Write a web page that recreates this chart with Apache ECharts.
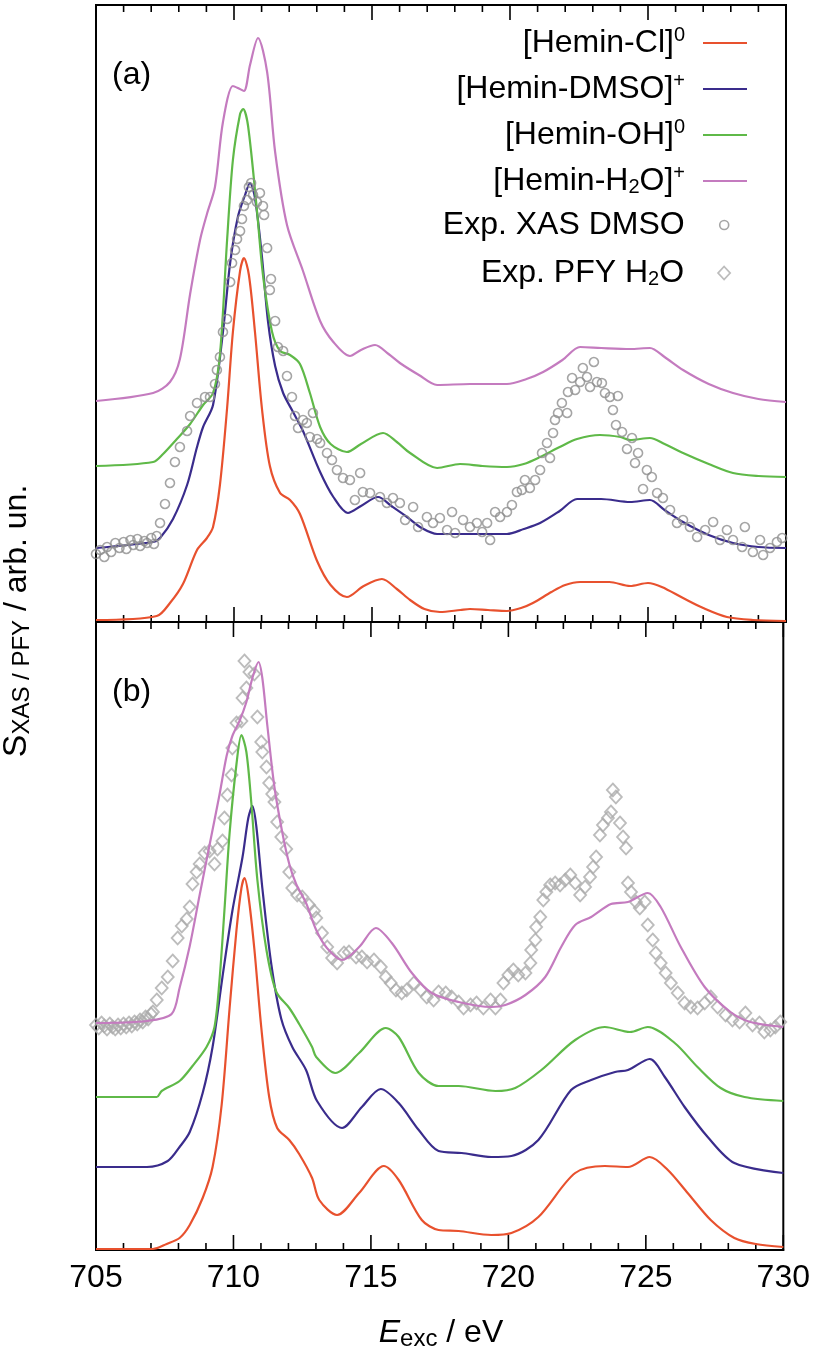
<!DOCTYPE html>
<html>
<head>
<meta charset="utf-8">
<script src="https://cdn.jsdelivr.net/npm/echarts@6/dist/echarts.min.js"></script>
<style>
html,body{margin:0;padding:0;background:#fff;}
#chart{width:813px;height:1353px;}
</style>
</head>
<body>
<div id="chart"></div>
<script>
// ---------- data (x = excitation energy / eV, y = arb. units, offset traces) ----------
const xTicks = [705, 710, 715, 720, 725, 730];
const xMinorTicks = [705, 706, 707, 708, 709, 710, 711, 712, 713, 714, 715, 716, 717, 718, 719, 720, 721, 722, 723, 724, 725, 726, 727, 728, 729, 730];
const seriesNames = ['Hemin-Cl', 'Hemin-DMSO', 'Hemin-OH', 'Hemin-H2O', 'Exp. XAS DMSO', 'Exp. PFY H2O'];

// panel (a)
const a_cl = [[705,2],[707.2,6],[707.68,19],[708.15,38],[708.66,72],[709.02,84],[709.24,95],[709.49,137],[709.75,214],[709.96,290],[710.22,351],[710.36,364],[710.54,347],[710.76,290],[711.01,214],[711.3,156],[711.67,129],[712.03,122],[712.39,108],[713.01,61],[713.5,37],[714.09,25],[714.7,36],[715.36,43],[715.9,33],[716.38,22],[716.9,13],[717.46,10],[718.2,12],[718.55,13],[719.2,12],[719.89,11],[720.4,14],[720.83,19],[721.5,30],[722.0,37],[722.54,40],[723.6,40],[724.35,36],[725.0,39],[725.5,35],[726.27,24],[727.0,14],[727.86,5],[728.8,2],[730,1]];
const a_dmso = [[705,74],[707.07,80],[707.32,84],[707.79,103],[708.3,137],[708.66,175],[708.88,195],[709.24,217],[709.6,290],[709.86,359],[710.14,405],[710.4,427],[710.58,439],[710.76,424],[711.01,366],[711.23,301],[711.49,256],[711.78,229],[712.14,210],[712.5,191],[713.12,150],[713.6,125],[714.13,109],[714.6,116],[715.22,125],[715.7,116],[716.27,105],[716.8,94],[717.36,88],[718.5,88],[719.89,88],[720.5,93],[721.09,99],[721.8,111],[722.43,123],[723.3,123],[724.35,120],[725.07,122],[725.6,112],[726.27,100],[727.2,87],[728.08,79],[729.0,75],[730,74]];
const a_oh = [[705,156],[707.07,160],[707.43,168],[707.93,183],[708.41,198],[708.88,217],[709.24,229],[709.49,267],[709.75,382],[709.96,462],[710.22,508],[710.33,513],[710.51,496],[710.83,412],[711.05,347],[711.38,290],[711.67,271],[712.03,267],[712.39,258],[712.75,229],[713.12,195],[713.5,178],[714.09,170],[714.6,178],[715.4,189],[715.9,180],[716.38,169],[717.36,154],[718.19,158],[719.0,156],[719.89,155],[720.5,158],[721.09,165],[721.8,175],[722.43,183],[723.26,187],[724.0,185],[724.35,182],[725.07,184],[725.6,178],[726.27,169],[727.2,158],[728.08,149],[729.0,146],[730,145]];
const a_h2o = [[705,221],[707.07,229],[707.68,240],[708.04,263],[708.41,328],[708.77,382],[709.02,408],[709.31,435],[709.6,500],[709.96,536],[710.14,534],[710.36,531],[710.58,557],[710.87,584],[711.2,550],[711.49,470],[711.92,397],[712.5,351],[713.12,301],[713.6,280],[714.2,266],[714.6,272],[715.11,277],[715.6,268],[716.01,259],[716.7,247],[717.36,237],[718.55,238],[719.89,238],[720.6,243],[721.2,250],[721.9,262],[722.54,275],[723.3,274],[724.35,273],[725.07,274],[725.6,265],[726.27,252],[727.2,238],[728.08,229],[729.0,223],[730,220]];
const a_xas = [[705.0,68],[705.15,72],[705.3,65],[705.4,75],[705.55,70],[705.7,79],[705.85,74],[706.0,80],[706.1,73],[706.25,82],[706.35,77],[706.5,83],[706.6,76],[706.75,81],[706.85,79],[707.0,84],[707.1,78],[707.2,86],[707.32,99],[707.5,118],[707.68,139],[707.86,160],[708.04,175],[708.3,191],[708.41,206],[708.66,219],[708.95,225],[709.13,225],[709.31,238],[709.38,252],[709.49,265],[709.6,290],[709.75,303],[709.86,340],[709.93,359],[710.04,372],[710.11,383],[710.22,391],[710.29,403],[710.36,416],[710.47,422],[710.54,435],[710.62,439],[710.69,427],[710.83,420],[710.94,429],[711.05,416],[711.09,407],[711.2,374],[711.3,332],[711.34,343],[711.49,301],[711.59,275],[711.78,271],[711.92,246],[712.1,225],[712.21,206],[712.32,194],[712.5,202],[712.64,199],[712.75,185],[712.86,209],[713.01,183],[713.12,179],[713.37,169],[713.55,162],[713.73,152],[713.95,144],[714.2,142],[714.38,122],[714.57,149],[714.67,130],[714.93,129],[715.29,125],[715.54,119],[715.76,124],[716.01,119],[716.2,102],[716.49,115],[716.67,95],[716.99,105],[717.21,99],[717.46,104],[717.72,92],[717.9,110],[718.01,89],[718.3,102],[718.55,95],[718.8,99],[718.99,90],[719.17,99],[719.28,82],[719.46,110],[719.64,105],[719.89,110],[720.07,117],[720.25,130],[720.43,132],[720.54,142],[720.72,134],[720.91,142],[721.09,152],[721.16,169],[721.34,179],[721.45,164],[721.56,189],[721.63,202],[721.74,209],[721.88,219],[722.07,209],[722.1,230],[722.25,244],[722.36,232],[722.54,240],[722.64,254],[722.79,245],[722.9,235],[723.04,260],[723.15,240],[723.33,239],[723.44,229],[723.62,225],[723.73,212],[723.84,197],[723.91,226],[724.06,190],[724.24,173],[724.42,184],[724.53,159],[724.64,169],[724.82,133],[724.96,152],[725.14,145],[725.33,129],[725.54,124],[725.8,112],[726.05,99],[726.27,102],[726.52,95],[726.78,85],[727.07,92],[727.36,100],[727.61,82],[727.86,92],[728.08,82],[728.41,75],[728.51,95],[728.8,70],[729.06,82],[729.17,67],[729.42,74],[729.67,80],[729.86,84]];

// panel (b)
const b_cl = [[705,1],[707.07,1],[707.57,6],[708.04,12],[708.41,25],[708.88,52],[709.24,83],[709.57,145],[709.86,242],[710.11,320],[710.29,362],[710.4,372],[710.54,355],[710.76,301],[711.01,223],[711.3,153],[711.59,122],[712.03,110],[712.39,96],[712.86,72],[713.12,50],[713.77,35],[714.57,57],[715.47,84],[716.01,70],[716.85,30],[717.46,20],[718.19,19],[719.38,15],[720.11,17],[721.09,33],[722.43,77],[723.51,84],[724.35,83],[725.14,93],[725.8,80],[726.52,57],[727.36,30],[728.22,12],[729.0,6],[730,3]];
const b_dmso = [[705,83],[706.85,83],[707.61,89],[708.04,103],[708.41,118],[708.88,157],[709.24,203],[709.6,273],[709.96,339],[710.33,393],[710.54,432],[710.69,444],[710.83,424],[711.05,362],[711.38,285],[711.74,231],[712.14,203],[712.64,180],[713.04,149],[713.95,122],[714.67,143],[715.36,161],[716.01,147],[716.74,120],[717.46,99],[718.3,97],[719.38,93],[720.11,94],[721.09,110],[722.28,160],[723.01,170],[723.88,178],[724.35,180],[725.14,191],[725.69,173],[726.41,143],[727.25,113],[728.22,87],[730,77]];
const b_oh = [[705,153],[707.21,153],[707.39,159],[708.04,169],[708.51,184],[709.02,203],[709.31,223],[709.49,269],[709.67,339],[709.86,417],[710.11,486],[710.29,515],[710.47,498],[710.65,447],[710.87,370],[711.2,300],[711.56,258],[712.03,242],[712.39,226],[712.86,203],[713.01,193],[713.7,177],[714.57,197],[715.54,222],[716.01,213],[716.74,177],[717.46,164],[718.19,164],[719.53,159],[720.25,162],[721.2,180],[722.43,210],[723.51,223],[724.42,218],[725.07,223],[726.05,207],[726.88,183],[727.72,162],[728.59,153],[730,149]];
const b_h2o = [[705,227],[706.85,229],[707.75,236],[708.04,262],[708.41,304],[708.77,355],[709.13,405],[709.49,455],[709.75,494],[709.96,514],[710.22,529],[710.47,548],[710.69,572],[710.91,588],[711.05,572],[711.23,525],[711.49,463],[711.78,417],[712.03,386],[712.28,366],[712.64,347],[713.01,320],[713.4,302],[713.95,290],[714.57,303],[715.18,322],[715.76,307],[716.49,277],[717.21,257],[718.19,248],[719.38,243],[719.89,245],[720.62,255],[721.34,273],[721.92,303],[722.43,325],[723.01,333],[723.73,346],[724.35,348],[725.07,357],[725.54,343],[726.27,303],[727.14,263],[728.08,238],[728.8,228],[730,223]];
const b_pfy = [[705.0,225],[705.1,222],[705.2,227],[705.3,224],[705.4,221],[705.5,226],[705.6,223],[705.7,221],[705.8,225],[705.9,222],[706.0,226],[706.1,223],[706.2,227],[706.3,224],[706.4,228],[706.5,226],[706.6,230],[706.7,228],[706.8,233],[706.9,231],[707.0,236],[707.07,238],[707.21,250],[707.39,262],[707.61,273],[707.79,289],[707.97,312],[708.12,324],[708.3,331],[708.41,343],[708.51,366],[708.66,378],[708.77,386],[708.95,397],[709.13,399],[709.31,386],[709.42,401],[709.6,409],[709.67,432],[709.78,455],[709.93,475],[709.96,502],[710.11,527],[710.29,529],[710.33,552],[710.4,589],[710.47,562],[710.58,578],[710.76,576],[710.87,533],[711.01,508],[711.05,498],[711.2,483],[711.3,467],[711.41,456],[711.49,448],[711.59,428],[711.74,413],[711.92,401],[712.03,378],[712.14,362],[712.32,355],[712.5,353],[712.75,345],[712.93,339],[713.01,332],[713.22,317],[713.41,303],[713.59,292],[713.77,287],[714.02,297],[714.2,298],[714.46,293],[714.67,293],[714.86,288],[715.11,290],[715.36,283],[715.54,273],[715.72,267],[715.91,260],[716.12,257],[716.3,260],[716.56,267],[716.81,260],[717.03,253],[717.28,250],[717.46,258],[717.72,257],[717.93,253],[718.19,248],[718.37,242],[718.62,245],[718.84,247],[719.09,242],[719.35,250],[719.53,242],[719.71,250],[719.82,267],[720.0,275],[720.18,280],[720.36,275],[720.62,277],[720.8,287],[720.83,300],[720.98,310],[721.01,323],[721.16,333],[721.27,350],[721.38,358],[721.52,365],[721.7,367],[721.88,365],[722.07,370],[722.25,375],[722.43,367],[722.61,355],[722.79,363],[722.97,373],[723.08,383],[723.19,393],[723.33,415],[723.44,425],[723.62,432],[723.73,438],[723.8,460],[723.91,453],[724.06,427],[724.17,413],[724.28,402],[724.35,367],[724.46,358],[724.64,348],[724.78,342],[724.96,348],[725.07,325],[725.25,310],[725.36,297],[725.54,287],[725.72,277],[725.91,267],[726.16,257],[726.41,247],[726.63,243],[726.88,242],[727.14,247],[727.36,253],[727.61,243],[727.9,235],[728.15,230],[728.41,228],[728.62,237],[728.88,225],[729.13,227],[729.31,218],[729.53,220],[729.71,223],[729.89,228]];

// ---------- styling ----------
const FONT = '"Liberation Sans", Arial, Helvetica, sans-serif';
const COLORS = {'Hemin-Cl': '#e8512e', 'Hemin-DMSO': '#3a2c8c', 'Hemin-OH': '#5fb948', 'Hemin-H2O': '#c47bbf'};
const Y_MAX_A = 617, Y_MAX_B = 628;
const MAJOR_LEN = 15, MINOR_LEN = 7;
const legendText = {
  'Hemin-Cl': '{n|[Hemin-Cl]}{sup|0}',
  'Hemin-DMSO': '{n|[Hemin-DMSO]}{sup|+}',
  'Hemin-OH': '{n|[Hemin-OH]}{sup|0}',
  'Hemin-H2O': '{n|[Hemin-H}{sub|2}{n|O]}{sup|+}',
  'Exp. XAS DMSO': '{n|Exp. XAS DMSO}',
  'Exp. PFY H2O': '{n|Exp. PFY H}{sub|2}{n|O}'
};
const richLegend = {
  n: {fontSize: 32, fontFamily: FONT, color: '#000', lineHeight: 36},
  sup: {fontSize: 20, fontFamily: FONT, color: '#000', lineHeight: 20, padding: [0, 0, 16, 0]},
  sub: {fontSize: 20, fontFamily: FONT, color: '#000', lineHeight: 20, padding: [14, 0, 2, 0]}
};

function xAxisFor(gridIndex, position, showLabels) {
  return {
    type: 'value', gridIndex: gridIndex, position: position,
    min: xTicks[0], max: xTicks[xTicks.length - 1], interval: 5,
    axisLine: {show: true, onZero: false, lineStyle: {color: '#000', width: 2}},
    axisTick: {show: false}, minorTick: {show: false},
    splitLine: {show: false},
    axisLabel: {show: showLabels, fontSize: 32, fontFamily: FONT, color: '#000', margin: 12}
  };
}
function yAxisFor(gridIndex, max) {
  return {
    type: 'value', gridIndex: gridIndex, min: 0, max: max,
    axisLine: {show: true, lineStyle: {color: '#000', width: 2}},
    axisTick: {show: false}, axisLabel: {show: false}, splitLine: {show: false}
  };
}
function lineSeries(name, data, xi, yi) {
  return {
    name: name, type: 'line', data: data, xAxisIndex: xi, yAxisIndex: yi,
    symbol: 'none', smooth: 0.3, color: COLORS[name],
    lineStyle: {color: COLORS[name], width: 2.2}, z: 3
  };
}

const chart = echarts.init(document.getElementById('chart'), null, {renderer: 'canvas'});

// stage 1: panels, axes and data
chart.setOption({
  animation: false,
  backgroundColor: '#fff',
  grid: [
    {left: 96, right: 27, top: 5, height: 617, show: true, borderColor: '#000', borderWidth: 2, backgroundColor: 'transparent'},
    {left: 96, right: 27, top: 622, height: 628, show: true, borderColor: '#000', borderWidth: 2, backgroundColor: 'transparent'}
  ],
  xAxis: [xAxisFor(0, 'bottom', false), xAxisFor(0, 'top', false), xAxisFor(1, 'top', false), xAxisFor(1, 'bottom', true)],
  yAxis: [yAxisFor(0, Y_MAX_A), yAxisFor(1, Y_MAX_B)],
  series: [
    lineSeries('Hemin-Cl', a_cl, 0, 0),
    lineSeries('Hemin-DMSO', a_dmso, 0, 0),
    lineSeries('Hemin-OH', a_oh, 0, 0),
    lineSeries('Hemin-H2O', a_h2o, 0, 0),
    {name: 'Exp. XAS DMSO', type: 'scatter', data: a_xas, xAxisIndex: 0, yAxisIndex: 0,
      symbol: 'circle', symbolSize: 9, z: 4,
      itemStyle: {color: 'rgba(255,255,255,0)', borderColor: '#8e8e8e', borderWidth: 1.6}},
    lineSeries('Hemin-Cl', b_cl, 3, 1),
    lineSeries('Hemin-DMSO', b_dmso, 3, 1),
    lineSeries('Hemin-OH', b_oh, 3, 1),
    lineSeries('Hemin-H2O', b_h2o, 3, 1),
    {name: 'Exp. PFY H2O', type: 'scatter', data: b_pfy, xAxisIndex: 3, yAxisIndex: 1,
      symbol: 'diamond', symbolSize: [12, 13], z: 2,
      itemStyle: {color: 'rgba(255,255,255,0)', borderColor: '#ababab', borderWidth: 1.8}}
  ]
});

// stage 2: inward tick marks on every panel edge, placed through the x-axis scale
const tickMarks = [];
[[0, 0, Y_MAX_A], [3, 1, Y_MAX_B]].forEach(function (p) {
  xMinorTicks.forEach(function (v) {
    const len = xTicks.indexOf(v) >= 0 ? MAJOR_LEN : MINOR_LEN;
    const pb = chart.convertToPixel({xAxisIndex: p[0], yAxisIndex: p[1]}, [v, 0]);
    const pt = chart.convertToPixel({xAxisIndex: p[0], yAxisIndex: p[1]}, [v, p[2]]);
    tickMarks.push({type: 'rect', shape: {x: pb[0] - 0.8, y: pb[1] - len, width: 1.6, height: len}, style: {fill: '#000'}});
    tickMarks.push({type: 'rect', shape: {x: pt[0] - 0.8, y: pt[1], width: 1.6, height: len}, style: {fill: '#000'}});
  });
});
const textMarks = [
  {type: 'text', x: 112, y: 75, style: {text: '(a)', fontSize: 32, fontFamily: FONT, fill: '#000', align: 'left', verticalAlign: 'middle'}},
  {type: 'text', x: 112, y: 692, style: {text: '(b)', fontSize: 32, fontFamily: FONT, fill: '#000', align: 'left', verticalAlign: 'middle'}},
  {type: 'text', x: 17, y: 621, rotation: Math.PI / 2,
    style: {text: '{s|S}{sub|XAS / PFY}{n| / arb. un.}', align: 'center', verticalAlign: 'middle', fill: '#000',
      rich: {
        s: {fontSize: 34, fontFamily: FONT, fill: '#000', lineHeight: 40},
        sub: {fontSize: 24, fontFamily: FONT, fill: '#000', lineHeight: 24, padding: [10, 0, 0, 0]},
        n: {fontSize: 32, fontFamily: FONT, fill: '#000', lineHeight: 40}
      }}},
  {type: 'text', x: 441, y: 1333,
    style: {text: '{i|E}{sub|exc}{n| / eV}', align: 'center', verticalAlign: 'middle', fill: '#000',
      rich: {
        i: {fontSize: 32, fontFamily: FONT, fontStyle: 'italic', fill: '#000', lineHeight: 40},
        sub: {fontSize: 24, fontFamily: FONT, fill: '#000', lineHeight: 24, padding: [12, 0, 0, 0]},
        n: {fontSize: 32, fontFamily: FONT, fill: '#000', lineHeight: 40}
      }}}
];
chart.setOption({graphic: tickMarks.concat(textMarks)});

// stage 3: legends
try {
  chart.setOption({
    legend: [
      {
        data: seriesNames.slice(0, 4).map(function (n) { return {name: n, icon: 'rect'}; }),
        orient: 'vertical', align: 'right', right: 66, top: 25, padding: 0,
        itemWidth: 44, itemHeight: 2, itemGap: 10, selectedMode: false,
        formatter: function (n) { return legendText[n]; },
        textStyle: {fontSize: 32, fontFamily: FONT, color: '#000', padding: [0, 13, 0, 0], rich: richLegend}
      },
      {
        data: [{name: 'Exp. XAS DMSO', icon: 'circle', itemStyle: {color: 'rgba(255,255,255,0)', borderColor: '#8e8e8e', borderWidth: 1.6}}],
        orient: 'vertical', align: 'right', right: 83.5, top: 209, padding: 0,
        itemWidth: 9, itemHeight: 9, selectedMode: false,
        formatter: function (n) { return legendText[n]; },
        textStyle: {fontSize: 32, fontFamily: FONT, color: '#000', padding: [0, 30, 0, 0], rich: richLegend}
      },
      {
        data: [{name: 'Exp. PFY H2O', icon: 'diamond', itemStyle: {color: 'rgba(255,255,255,0)', borderColor: '#ababab', borderWidth: 1.8}}],
        orient: 'vertical', align: 'right', right: 82, top: 255, padding: 0,
        itemWidth: 12, itemHeight: 13, selectedMode: false,
        formatter: function (n) { return legendText[n]; },
        textStyle: {fontSize: 32, fontFamily: FONT, color: '#000', padding: [0, 29, 0, 0], rich: richLegend}
      }
    ]
  });
} catch (e) { console.log(e); }
</script>
</body>
</html>
